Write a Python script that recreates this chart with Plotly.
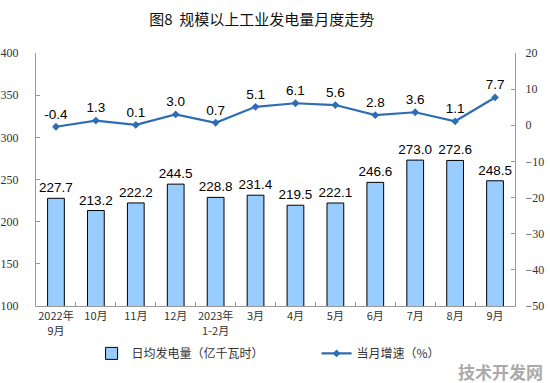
import plotly.graph_objects as go

categories = ["2022年<br>9月", "10月", "11月", "12月", "2023年<br>1-2月", "3月", "4月", "5月", "6月", "7月", "8月", "9月"]
daily_output = [227.7, 213.2, 222.2, 244.5, 228.8, 231.4, 219.5, 222.1, 246.6, 273.0, 272.6, 248.5]
growth = [-0.4, 1.3, 0.1, 3.0, 0.7, 5.1, 6.1, 5.6, 2.8, 3.6, 1.1, 7.7]
left_ticks = [100, 150, 200, 250, 300, 350, 400]
right_ticks = [-50, -40, -30, -20, -10, 0, 10, 20]

fig = go.Figure()
fig.add_trace(go.Bar(
    x=categories, y=daily_output, name="日均发电量（亿千瓦时）",
    marker=dict(color="#99CCFF", line=dict(color="#000000", width=1)),
    width=0.42,
    text=[f"{v:.1f}" for v in daily_output], textposition="outside",
    constraintext="none",
    textfont=dict(family="Liberation Sans", size=13.5, color="#000"),
    cliponaxis=False,
))
fig.add_trace(go.Scatter(
    x=categories, y=growth, name="当月增速（%）", yaxis="y2",
    mode="lines+markers+text",
    line=dict(color="#2E6DB4", width=2.2),
    marker=dict(symbol="diamond", size=6, color="#2E6DB4"),
    text=[f"{v:.1f}" for v in growth], textposition="top center",
    textfont=dict(family="Liberation Sans", size=13.5, color="#000"),
    cliponaxis=False,
))

fig.update_layout(
    width=550, height=383,
    margin=dict(l=36, r=35, t=53, b=77, autoexpand=False),
    paper_bgcolor="white", plot_bgcolor="white",
    title=dict(text="图8  规模以上工业发电量月度走势", x=0.476, xanchor="center", y=0.948, yanchor="middle",
               font=dict(family="Noto Sans CJK SC", size=15, color="#111")),
    xaxis=dict(range=[-0.5, len(categories) - 0.5], showline=True, linecolor="#999", linewidth=1,
               ticks="inside", tickson="boundaries",
               ticklen=4, tickcolor="#999", automargin=False,
               tickfont=dict(family="Noto Sans CJK SC", size=11, color="#333"), tickangle=0),
    yaxis=dict(range=[100, 400], tickvals=left_ticks, showgrid=False, showline=True, linecolor="#999",
               ticks="inside", ticklen=4, tickcolor="#999", zeroline=False, automargin=False,
               ticklabelstandoff=14,
               tickfont=dict(family="Liberation Serif", size=12, color="#333")),
    yaxis2=dict(range=[-50, 20], tickvals=right_ticks, overlaying="y", side="right", showgrid=False,
                showline=True, linecolor="#999", ticks="inside", ticklen=4, tickcolor="#999", zeroline=False,
                automargin=False, ticklabelstandoff=7,
                tickfont=dict(family="Liberation Serif", size=12, color="#333")),
    legend=dict(orientation="h", x=0.116, xanchor="left", y=-0.13, yanchor="top",
                entrywidth=180, entrywidthmode="pixels",
                font=dict(family="Noto Sans CJK SC", size=12, color="#333"),
                tracegroupgap=0),
    showlegend=True,
)
fig.add_annotation(text="<b>技术开发网</b>", xref="paper", yref="paper", x=1.063, y=-0.257,
                   xanchor="right", yanchor="middle", showarrow=False,
                   font=dict(family="Noto Sans CJK SC", size=17, color="#AAAAAA"))

fig.write_html("out.html", config={"displayModeBar": False},
               post_script="document.body.style.margin='0';")
